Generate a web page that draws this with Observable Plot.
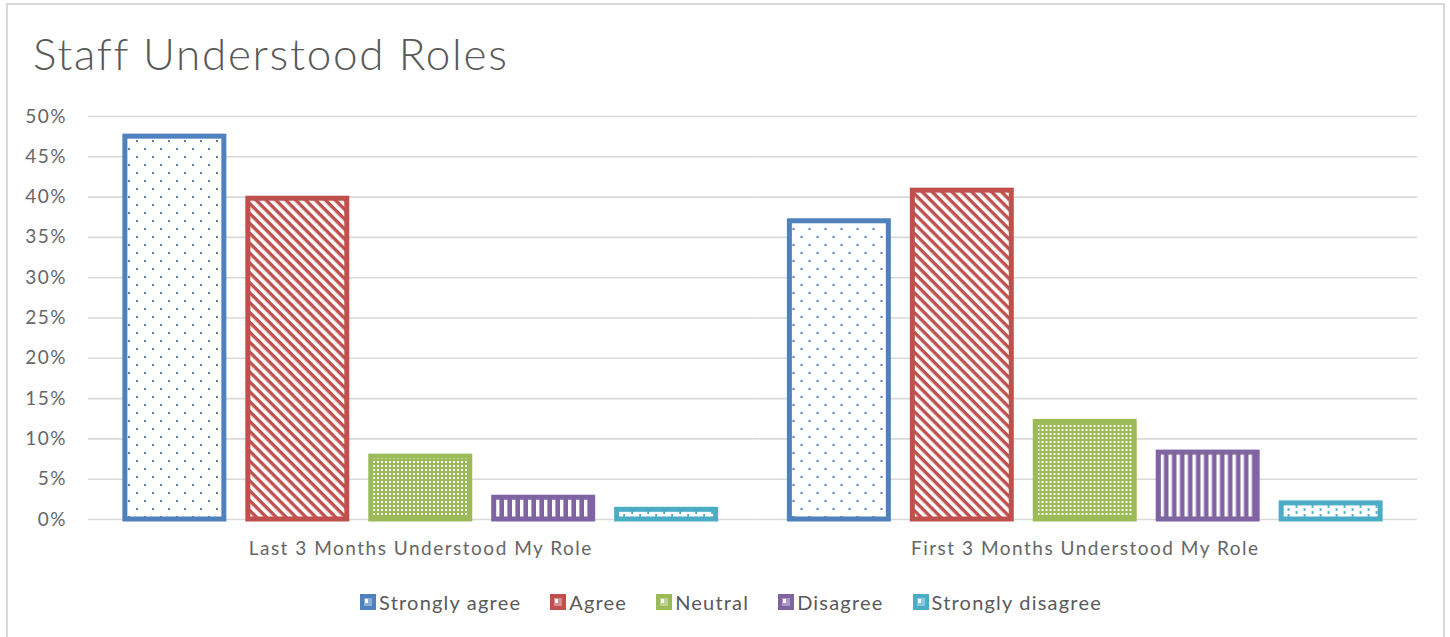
<!DOCTYPE html>
<html>
<head>
<meta charset="utf-8">
<script src="https://cdn.jsdelivr.net/npm/d3@7"></script>
<script src="https://cdn.jsdelivr.net/npm/@observablehq/plot@0.6"></script>
<style>
  html, body { margin: 0; padding: 0; background: #fff; }
  #frame { position: absolute; left: 6px; top: 3px; width: 1439px; height: 660px; border: 2px solid #d9d9d9; box-sizing: border-box; }
  #title { position: absolute; left: 33px; top: 27px; font-family: Lato, "Open Sans", sans-serif; font-weight: 300; font-size: 44px; letter-spacing: 1.7px; color: #595959; white-space: nowrap; }
  #chart { position: absolute; left: 0; top: 100px; }
  #chart svg text { letter-spacing: 1.5px; }
  #legend { position: absolute; left: 6px; top: 590px; width: 1450px; display: flex; justify-content: center; font-family: Lato, sans-serif; font-size: 20px; letter-spacing: 1.2px; color: #595959; }
  .item { display: flex; align-items: center; margin: 0 14.5px; }
  .item svg { margin-right: 3px; }
</style>
</head>
<body>
<div id="frame"></div>
<div id="title">Staff Understood Roles</div>
<div id="chart"></div>
<div id="legend"></div>
<script>
const groups = ["Last 3 Months Understood My Role", "First 3 Months Understood My Role"];
const responses = ["Strongly agree", "Agree", "Neutral", "Disagree", "Strongly disagree"];
const last3Values = [47.5, 39.8, 7.8, 2.7, 1.2];
const first3Values = [37.0, 40.8, 12.1, 8.3, 2.0];
const yTicks = [0, 5, 10, 15, 20, 25, 30, 35, 40, 45, 50];
const colors = ["#4f81bd", "#c0504d", "#9bbb59", "#8064a2", "#4bacc6"];

const data = [];
groups.forEach((g, gi) => {
  const vals = gi === 0 ? last3Values : first3Values;
  responses.forEach((r, i) => data.push({group: g, response: r, value: vals[i]}));
});

const font = "Lato, 'Open Sans', sans-serif";

const chart = Plot.plot({
  width: 1450,
  height: 470,
  marginLeft: 88,
  marginRight: 33,
  marginTop: 16,
  marginBottom: 51,
  style: {fontFamily: font, color: "#666", background: "transparent"},
  fx: {domain: groups, padding: 0, round: false, label: null},
  x: {domain: responses, axis: null, paddingInner: 0.195, paddingOuter: 0.3, round: false},
  y: {domain: [0, 50], label: null},
  marks: [
    Plot.ruleY(yTicks, {stroke: "#d9d9d9", strokeWidth: 1.6}),
    ...responses.map((r, i) => Plot.barY(data.filter(d => d.response === r), {
      fx: "group", x: "response", y: "value",
      fill: `url(#pat${i})`, stroke: colors[i], strokeWidth: 5
    })),
    Plot.axisY({ticks: yTicks, tickFormat: d => d + "%", tickSize: 0, tickPadding: 21.5, fontSize: 19, label: null}),
    Plot.axisFx({anchor: "bottom", tickSize: 0, tickPadding: 22, fontSize: 19, label: null})
  ]
});

// Pattern definitions
const defs = d3.create("svg:defs");
function pattern(id, w, h) {
  return defs.append("pattern").attr("id", id).attr("patternUnits", "userSpaceOnUse")
    .attr("width", w).attr("height", h);
}
// Strongly agree: white with blue dots (staggered)
let p = pattern("pat0", 16, 16);
p.append("rect").attr("width", 16).attr("height", 16).attr("fill", "#fff");
p.append("rect").attr("x", 0).attr("y", 0).attr("width", 2).attr("height", 2).attr("fill", colors[0]);
p.append("rect").attr("x", 8).attr("y", 8).attr("width", 2).attr("height", 2).attr("fill", colors[0]);
// Agree: white with red diagonal stripes (top-left to bottom-right)
p = pattern("pat1", 7, 7).attr("patternTransform", "rotate(45)");
p.append("rect").attr("width", 7).attr("height", 7).attr("fill", "#fff");
p.append("rect").attr("x", 0).attr("y", 0).attr("width", 7).attr("height", 3.4).attr("fill", colors[1]);
// Neutral: green with white dots grid
p = pattern("pat2", 4, 4);
p.append("rect").attr("width", 4).attr("height", 4).attr("fill", colors[2]);
p.append("rect").attr("x", 1).attr("y", 1).attr("width", 2).attr("height", 2).attr("fill", "#fff");
// Disagree: purple with white vertical stripes
p = pattern("pat3", 8, 8);
p.append("rect").attr("width", 8).attr("height", 8).attr("fill", colors[3]);
p.append("rect").attr("x", 0).attr("y", 0).attr("width", 3.4).attr("height", 8).attr("fill", "#fff");
// Strongly disagree: cyan with white horizontal dashes (brick)
p = pattern("pat4", 16, 6);
p.append("rect").attr("width", 16).attr("height", 6).attr("fill", colors[4]);
p.append("rect").attr("x", 1).attr("y", 0).attr("width", 14.2).attr("height", 3).attr("fill", "#fff");
p.append("rect").attr("x", 9).attr("y", 3).attr("width", 14.2).attr("height", 3).attr("fill", "#fff");
p.append("rect").attr("x", -7).attr("y", 3).attr("width", 14.2).attr("height", 3).attr("fill", "#fff");
chart.insertBefore(defs.node(), chart.firstChild);

document.getElementById("chart").appendChild(chart);

// Legend
const legend = d3.select("#legend");
responses.forEach((r, i) => {
  const item = legend.append("div").attr("class", "item");
  const s = item.append("svg").attr("width", 16).attr("height", 16);
  s.append("rect").attr("width", 16).attr("height", 16).attr("fill", colors[i]);
  s.append("rect").attr("x", 4).attr("y", 4).attr("width", 8).attr("height", 8).attr("fill", "#fff").attr("opacity", 0.35);
  s.append("rect").attr("x", 5).attr("y", 5).attr("width", 3).attr("height", 4).attr("fill", "#fff");
  item.append("span").text(r);
});
</script>
</body>
</html>
